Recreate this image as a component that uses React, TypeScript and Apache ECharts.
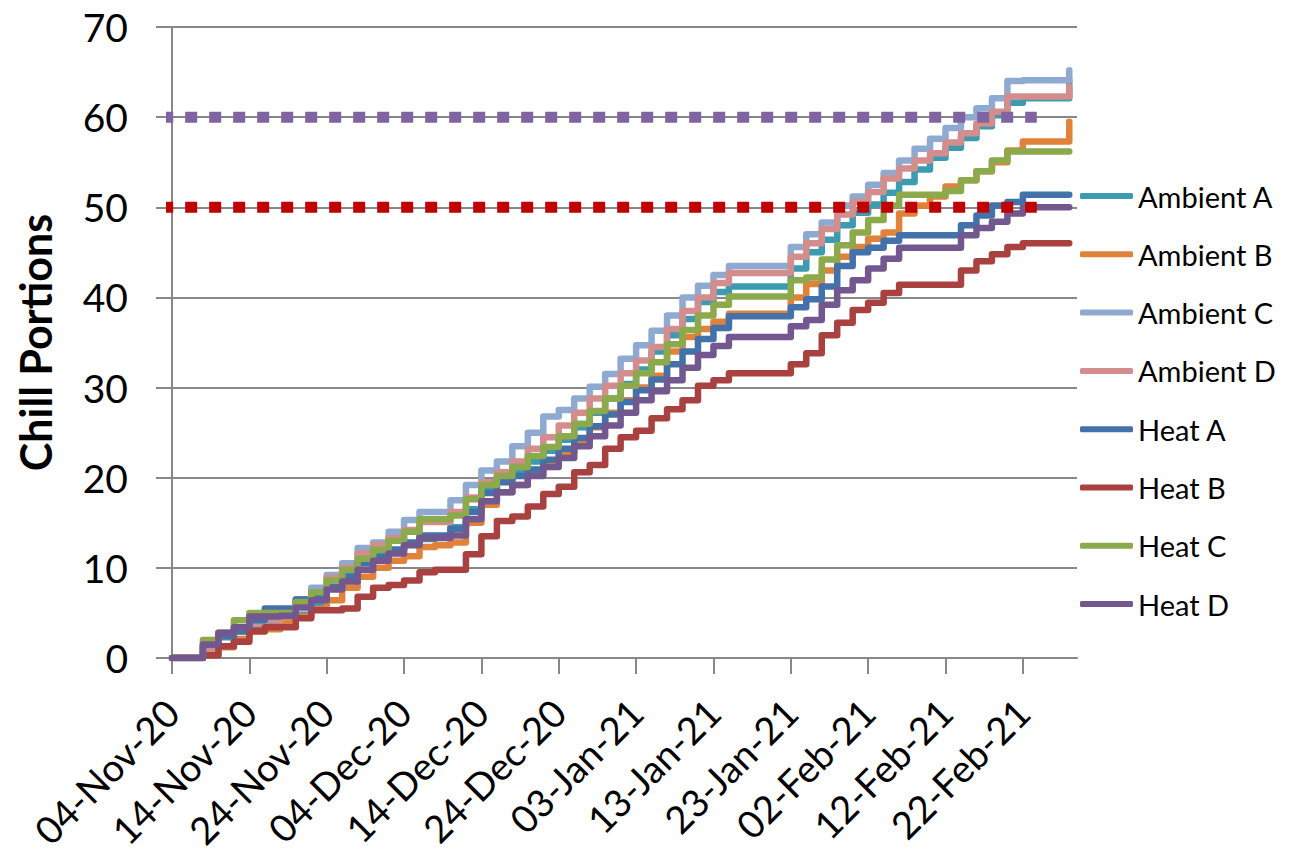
import React, { useEffect, useRef } from "react";
import * as echarts from "echarts";

// Day offsets from 04-Nov-2020 (every 2 days)
const START_DATE = Date.UTC(2020, 10, 4);
const MONTHS = ["Jan", "Feb", "Mar", "Apr", "May", "Jun", "Jul", "Aug", "Sep", "Oct", "Nov", "Dec"];

const days = [0, 2, 4, 6, 8, 10, 12, 14, 16, 18, 20, 22, 24, 26, 28, 30, 32, 34, 36, 38, 40, 42, 44, 46, 48, 50, 52, 54, 56, 58, 60, 62, 64, 66, 68, 70, 72, 74, 76, 78, 80, 82, 84, 86, 88, 90, 92, 94, 96, 98, 100, 102, 104, 106, 108, 110, 112, 114, 116];
const tickDays = [0, 10, 20, 30, 40, 50, 60, 70, 80, 90, 100, 110];

const ambientA = [0, 0, 1.0, 2.3, 2.9, 3.6, 4.0, 4.0, 4.8, 6.0, 7.8, 9.3, 10.6, 11.3, 12.0, 12.6, 13.2, 13.5, 14.5, 16.5, 18.6, 19.8, 20.8, 21.8, 23.0, 24.2, 25.6, 27.2, 28.8, 30.4, 32.0, 34.0, 35.8, 37.6, 39.5, 40.6, 41.2, 41.2, 41.2, 41.2, 43.2, 45.0, 46.4, 48.0, 49.4, 50.3, 51.6, 52.8, 54.2, 55.5, 56.6, 57.7, 59.0, 60.2, 61.6, 62.1, 62.1, 62.1, 64.1];
const ambientB = [0, 0, 0.3, 1.2, 2.1, 2.9, 3.2, 3.9, 4.6, 5.4, 6.4, 7.8, 9.0, 10.0, 10.8, 11.3, 12.3, 12.5, 12.8, 15.0, 17.0, 18.4, 19.2, 20.4, 21.5, 22.8, 24.2, 25.6, 27.2, 28.6, 30.0, 31.3, 34.0, 35.6, 36.5, 37.3, 38.2, 38.2, 38.2, 38.2, 40.0, 41.5, 43.0, 44.5, 45.6, 46.5, 47.2, 49.3, 50.2, 51.2, 52.3, 53.0, 54.0, 55.0, 56.3, 57.3, 57.3, 57.3, 59.5];
const ambientC = [0, 0, 1.2, 2.6, 3.2, 3.9, 4.3, 4.8, 6.5, 7.8, 9.2, 10.5, 12.2, 12.8, 14.0, 15.3, 16.2, 16.2, 17.5, 19.2, 20.8, 21.8, 23.5, 25.0, 26.8, 27.5, 28.8, 30.1, 31.5, 33.2, 34.7, 36.3, 38.0, 40.0, 41.3, 42.5, 43.5, 43.5, 43.5, 43.5, 45.6, 47.0, 48.3, 50.2, 51.2, 52.5, 53.8, 55.2, 56.5, 57.6, 58.8, 60.0, 61.0, 62.1, 64.0, 64.1, 64.1, 64.1, 65.2];
const ambientD = [0, 0, 1.0, 2.4, 3.0, 3.8, 4.2, 4.6, 6.0, 7.3, 8.9, 10.0, 11.6, 12.5, 13.3, 14.2, 15.1, 15.1, 16.2, 17.8, 19.5, 20.6, 21.8, 23.2, 24.5, 25.8, 27.2, 28.8, 30.2, 31.6, 33.0, 34.5, 36.5, 38.5, 40.0, 41.6, 42.7, 42.7, 42.7, 42.7, 44.5, 46.0, 47.6, 49.2, 50.6, 51.7, 53.2, 54.3, 55.2, 56.0, 57.2, 58.2, 59.3, 60.6, 62.3, 62.3, 62.3, 62.3, 63.4];
const heatA = [0, 0, 1.5, 2.4, 3.0, 4.2, 5.5, 5.5, 6.5, 6.9, 7.9, 9.0, 10.5, 11.2, 12.0, 12.8, 13.6, 13.6, 14.3, 16.2, 18.3, 19.5, 20.2, 20.9, 22.0, 23.2, 24.4, 25.7, 27.0, 28.4, 29.7, 30.9, 32.6, 34.0, 35.4, 36.6, 37.9, 37.9, 37.9, 37.9, 38.9, 39.8, 41.2, 43.5, 45.0, 45.5, 46.3, 46.9, 46.9, 46.9, 46.9, 48.0, 49.1, 50.2, 50.6, 51.4, 51.4, 51.4, 51.4];
const heatB = [0, 0, 0.3, 1.3, 1.8, 3.0, 3.4, 3.4, 4.4, 5.3, 5.3, 5.5, 6.8, 7.8, 8.1, 8.6, 9.5, 9.8, 9.8, 11.5, 13.5, 15.2, 15.7, 16.8, 18.2, 19.0, 20.6, 21.4, 23.2, 24.5, 25.2, 26.6, 27.6, 28.6, 30.2, 30.8, 31.6, 31.6, 31.6, 31.6, 32.6, 33.8, 35.8, 37.2, 38.6, 39.4, 40.5, 41.4, 41.4, 41.4, 41.4, 43.0, 44.0, 44.8, 45.6, 46.0, 46.0, 46.0, 46.0];
const heatC = [0, 0, 2.0, 2.8, 4.2, 5.0, 5.0, 5.0, 6.2, 7.3, 8.6, 9.8, 11.0, 12.0, 13.0, 14.0, 15.4, 15.4, 15.8, 17.6, 19.2, 20.2, 21.2, 22.4, 23.4, 24.6, 26.0, 27.4, 28.8, 30.2, 31.6, 32.8, 34.8, 36.4, 38.0, 39.2, 40.1, 40.1, 40.1, 40.1, 41.9, 42.2, 44.2, 45.8, 47.2, 48.6, 50.2, 51.4, 51.4, 51.4, 51.8, 53.0, 54.0, 55.2, 56.2, 56.2, 56.2, 56.2, 56.2];
const heatD = [0, 0, 1.5, 2.8, 3.4, 4.6, 4.6, 4.7, 5.6, 6.4, 7.6, 8.5, 9.8, 10.8, 11.6, 12.5, 13.3, 13.3, 13.6, 15.4, 17.4, 18.4, 19.2, 20.2, 21.2, 22.2, 23.5, 24.6, 25.8, 27.2, 28.6, 29.6, 30.8, 32.2, 33.6, 34.6, 35.6, 35.6, 35.6, 35.6, 36.8, 37.5, 39.2, 40.8, 41.9, 43.2, 44.3, 45.5, 45.5, 45.5, 45.5, 46.9, 47.7, 48.4, 49.3, 50.0, 50.0, 50.0, 50.0];

const seriesNames = ["Ambient A", "Ambient B", "Ambient C", "Ambient D", "Heat A", "Heat B", "Heat C", "Heat D"];
const seriesValues = [ambientA, ambientB, ambientC, ambientD, heatA, heatB, heatC, heatD];
const seriesColors = ["#3C9AB1", "#E0823A", "#8FAAD1", "#D38D8C", "#4371A9", "#A8413F", "#8CA94C", "#72588F"];

// Threshold reference lines
const refDays = [-4.5, 111.8];
const threshold60 = [60, 60];
const threshold50 = [50, 50];

const FONT = "Lato, 'Open Sans', sans-serif";
const GRAY = "#888888";

function formatDay(v: number): string {
  const d = new Date(START_DATE + Math.round(v) * 86400000);
  const dd = String(d.getUTCDate()).padStart(2, "0");
  const yy = String(d.getUTCFullYear()).slice(2);
  return `${dd}-${MONTHS[d.getUTCMonth()]}-${yy}`;
}

export default function App() {
  const ref = useRef<HTMLDivElement>(null);

  useEffect(() => {
    if (!ref.current) return;
    const chart = echarts.init(ref.current, undefined, { renderer: "svg" });

    const lineSeries: any[] = seriesNames.map((name, i) => ({
      name,
      type: "line",
      step: "end",
      symbol: "none",
      showSymbol: false,
      data: days.map((d, k) => [d, seriesValues[i][k]]),
      lineStyle: { width: 6.5, color: seriesColors[i], cap: "round", join: "round" },
      itemStyle: { color: seriesColors[i] },
    }));

    const refSeries: any[] = [
      { values: threshold60, color: "#8064A2" },
      { values: threshold50, color: "#C00000" },
    ].map((r) => ({
      type: "line",
      symbol: "none",
      showSymbol: false,
      silent: true,
      clip: false,
      z: 5,
      data: refDays.map((d, k) => [d, r.values[k]]),
      lineStyle: { width: 11, color: r.color, type: [12, 12], cap: "butt" },
    }));

    chart.setOption({
      animation: false,
      backgroundColor: "#ffffff",
      grid: { left: 172, right: 218, top: 27, bottom: 197, containLabel: false, outerBoundsMode: "none" },
      legend: {
        data: seriesNames,
        orient: "vertical",
        left: 1075,
        top: 176,
        padding: 5,
        icon: "roundRect",
        itemWidth: 53,
        itemHeight: 6,
        itemGap: 28.3,
        textStyle: { fontFamily: FONT, fontSize: 29, color: "#000", lineHeight: 30 },
      },
      xAxis: {
        type: "value",
        min: 0,
        max: 117,
        axisLine: { show: true, lineStyle: { color: GRAY, width: 2 } },
        axisTick: { show: true, customValues: tickDays, length: 16, lineStyle: { color: GRAY, width: 2 } },
        axisLabel: {
          customValues: tickDays,
          rotate: 45,
          margin: 48,
          formatter: (v: number) => formatDay(v),
          fontFamily: FONT,
          fontSize: 38,
          color: "#000",
        },
        splitLine: { show: false },
      },
      yAxis: {
        type: "value",
        min: 0,
        max: 70,
        interval: 10,
        name: "Chill Portions",
        nameLocation: "middle",
        nameGap: 115,
        nameRotate: 90,
        nameTextStyle: { fontFamily: FONT, fontWeight: "bold", fontSize: 43, color: "#000" },
        axisLine: { show: true, lineStyle: { color: GRAY, width: 2 } },
        axisTick: { show: true, length: 16, lineStyle: { color: GRAY, width: 2 } },
        axisLabel: { margin: 44, fontFamily: FONT, fontSize: 39, color: "#000" },
        splitLine: { show: true, lineStyle: { color: GRAY, width: 2 } },
      },
      series: [...lineSeries, ...refSeries],
    });

    return () => chart.dispose();
  }, []);

  return <div ref={ref} style={{ position: "absolute", left: 0, top: 0, width: 1295, height: 855 }} />;
}
